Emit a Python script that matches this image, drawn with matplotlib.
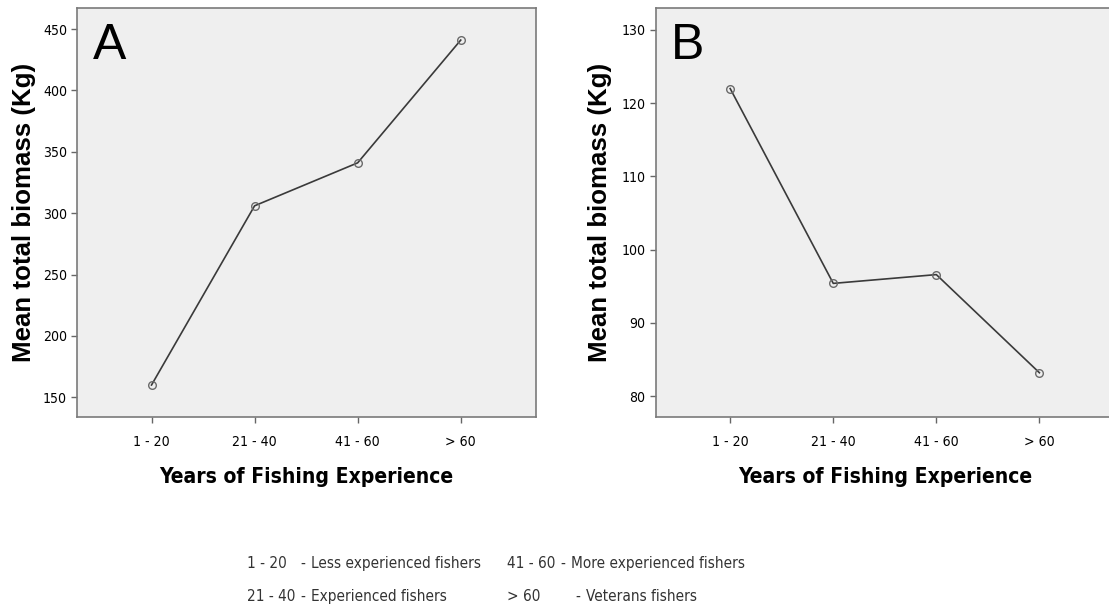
import matplotlib.pyplot as plt
from matplotlib import font_manager as fm

# data
groups = ['1 - 20', '21 - 40', '41 - 60', '> 60']
biomass_A = [160, 306, 341, 441]
biomass_B = [122.0, 95.4, 96.6, 83.2]

yticks_A = [150, 200, 250, 300, 350, 400, 450]
yticks_B = [80, 90, 100, 110, 120, 130]

legend_codes = ['1 - 20', '21 - 40', '41 - 60', '> 60']
legend_desc = ['Less experienced fishers', 'Experienced fishers',
               'More experienced fishers', 'Veterans fishers']


# pick fonts: a narrow sans for the SPSS-like labels, an Arial-like one for the rest
def find_font(names, bold, condensed):
    for name in names:
        for f in fm.fontManager.ttflist:
            w = f.weight if isinstance(f.weight, int) else (700 if 'bold' in str(f.weight) else 400)
            if f.name != name or f.style != 'normal':
                continue
            if (w >= 600) != bold:
                continue
            if condensed and 'condensed' not in str(f.stretch) and 'Narrow' not in name:
                continue
            if not condensed and str(f.stretch) != 'normal':
                continue
            return fm.FontProperties(fname=f.fname)
    return None

narrow_names = ['Liberation Sans Narrow', 'Arial Narrow', 'Nimbus Sans Narrow', 'DejaVu Sans']
wide_names = ['Liberation Sans', 'Arimo', 'Arial', 'DejaVu Sans']
f_narrow = find_font(narrow_names, False, True) or find_font(wide_names, False, False)
f_narrow_b = find_font(narrow_names, True, True) or find_font(wide_names, True, False)
f_wide = find_font(wide_names, False, False)
f_wide_b = find_font(wide_names, True, False)

fig = plt.figure(figsize=(11.09, 6.10), dpi=100)
fig.patch.set_facecolor('white')
renderer = fig.canvas.get_renderer()


def fit(txt, target_px):
    # scale the font so the text is as wide (long) as in the reference
    bb = txt.get_window_extent(renderer)
    size = max(bb.width, bb.height)
    txt.set_fontsize(txt.get_fontsize() * target_px / size)
    return txt.get_fontsize()


def width(txt):
    return txt.get_window_extent(renderer).width


def panel(rect, values, yticks, ylim, letter):
    ax = fig.add_axes(rect)
    ax.set_facecolor('#efefef')
    x = list(range(len(groups)))
    ax.plot(x, values, color='#3a3a3a', lw=1.2, marker='o', ms=5.5,
            mfc='none', mec='#6a6a6a', mew=1.0)
    ax.set_xlim(-0.72, 3.73)
    ax.set_ylim(*ylim)
    ax.set_xticks(x)
    ax.set_xticklabels(groups, fontproperties=f_narrow)
    ax.set_yticks(yticks)
    ax.set_yticklabels([str(v) for v in yticks], fontproperties=f_narrow)
    ax.tick_params(axis='x', length=4, width=1, color='#666666', pad=9)
    ax.tick_params(axis='y', length=4, width=1, color='#666666', pad=3.5)
    for s in ax.spines.values():
        s.set_color('#7a7a7a')
        s.set_linewidth(1.2)
    ax.set_ylabel('Mean total biomass (Kg)', fontproperties=f_wide_b)
    ax.set_xlabel('Years of Fishing Experience', fontproperties=f_narrow_b)
    ax.xaxis.set_label_coords(0.5, -0.122)
    ax.text(0.033, 0.965, letter, transform=ax.transAxes, fontproperties=f_wide,
            fontsize=36, va='top', ha='left')
    return ax


axA = panel([0.0697, 0.3169, 0.4136, 0.6695], biomass_A, yticks_A,
            (134.2, 466.9), 'A')
axB = panel([0.5915, 0.3169, 0.4136, 0.6695], biomass_B, yticks_B,
            (77.2, 132.96), 'B')
axA.yaxis.set_label_coords(-0.090, 0.5)
axB.yaxis.set_label_coords(-0.096, 0.5)

ylab_size = fit(axA.yaxis.label, 298)
xlab_size = fit(axA.xaxis.label, 293)
tick_size = fit(axA.get_yticklabels()[-1], 24)
for ax in (axA, axB):
    ax.yaxis.label.set_fontsize(ylab_size)
    ax.xaxis.label.set_fontsize(xlab_size)
    for t in ax.get_xticklabels() + ax.get_yticklabels():
        t.set_fontsize(tick_size)

# explanation of the experience classes under the panels
W, H = 1109.0, 610.0
kw = dict(fontproperties=f_narrow, fontsize=11, color='#333333', va='center', ha='left')
rows = [563.5, 596.5]
cols = [247, 507]
for c in range(2):
    x0 = cols[c]
    codes = [fig.text(x0 / W, 1 - rows[r] / H, legend_codes[2 * c + r], **kw) for r in range(2)]
    wmax = max(width(t) for t in codes)
    dash_x = x0 + wmax + 5
    for r in range(2):
        y = 1 - rows[r] / H
        dx = dash_x + (15 if (c == 1 and r == 1) else 0)
        fig.text(dx / W, y, '-', **kw)
        fig.text((dx + 11) / W, y, legend_desc[2 * c + r], **kw)

fig.savefig('out.png', dpi=100)
